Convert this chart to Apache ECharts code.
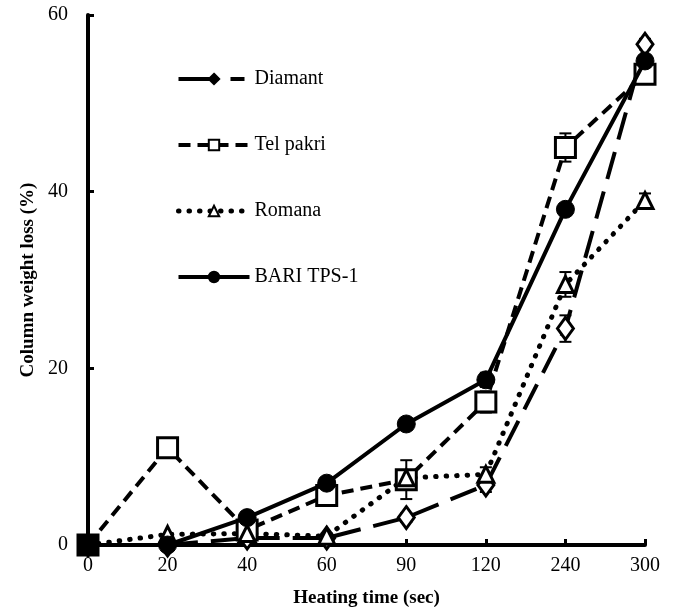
<!DOCTYPE html>
<html>
<head>
<meta charset="utf-8">
<script src="https://cdn.jsdelivr.net/npm/echarts@6/dist/echarts.min.js"></script>
<style>html,body{margin:0;padding:0;background:#fff}#c{width:677px;height:615px}</style>
</head>
<body>
<div id="c"></div>
<script>
var categories = ['0', '20', '40', '60', '90', '120', '240', '300'];
var diamant = [0, 0, 0.8, 0.8, 3.1, 6.8, 24.5, 56.7];
var telPakri = [0, 11, 1.7, 5.6, 7.4, 16.2, 45, 53.3];
var romana = [0, 1.2, 1.3, 1.0, 7.6, 8.0, 29.5, 39.0];
var bari = [0, 0, 3.1, 7.0, 13.7, 18.7, 38.0, 54.8];
var errDiamant = [0, 0, 0, 0, 0.5, 0.8, 1.5, 0.6];
var errTel = [0, 0.5, 0, 0.5, 2.2, 1.2, 1.6, 0.6];
var errRomana = [0, 0, 0, 0.3, 0.5, 0.8, 1.4, 0.8];
var errBari = [0, 0, 0, 0, 0, 0.8, 0, 0];
var seriesNames = ['Diamant', 'Tel pakri', 'Romana', 'BARI TPS-1'];

var FONT = '"Liberation Serif", "Times New Roman", serif';
var DASH_LONG = [28, 13];
var DASH_SHORT = [12, 7];
var DOTS = [0.5, 10];

function points(arr, filledIdx) {
  return arr.map(function (v, i) {
    if (filledIdx && filledIdx.indexOf(i) >= 0) {
      return { value: v, itemStyle: { color: '#000' } };
    }
    return v;
  });
}
function errData(vals, errs) {
  var out = [];
  for (var i = 0; i < vals.length; i++) {
    if (errs[i] > 0) out.push([i, vals[i], errs[i]]);
  }
  return out;
}
function errSeries(vals, errs) {
  return {
    type: 'custom',
    silent: true,
    z: 1,
    data: errData(vals, errs),
    renderItem: function (params, api) {
      var x = api.value(0), y = api.value(1), e = api.value(2);
      var hi = api.coord([x, y + e]);
      var lo = api.coord([x, y - e]);
      var hw = 6;
      var st = { stroke: '#000', lineWidth: 2 };
      return {
        type: 'group',
        children: [
          { type: 'line', shape: { x1: hi[0], y1: hi[1], x2: lo[0], y2: lo[1] }, style: st },
          { type: 'line', shape: { x1: hi[0] - hw, y1: hi[1], x2: hi[0] + hw, y2: hi[1] }, style: st },
          { type: 'line', shape: { x1: lo[0] - hw, y1: lo[1], x2: lo[0] + hw, y2: lo[1] }, style: st }
        ]
      };
    }
  };
}

var chart = echarts.init(document.getElementById('c'));
chart.setOption({
  animation: false,
  backgroundColor: '#fff',
  grid: { left: 88, right: 32, top: 15, bottom: 70 },
  legend: {
    orient: 'vertical',
    left: 171,
    top: 64,
    itemWidth: 71,
    itemHeight: 13,
    itemGap: 46,
    textStyle: { fontFamily: FONT, fontSize: 20, color: '#000', lineHeight: 20 },
    data: [
      { name: 'Diamant', itemStyle: { color: '#000', borderColor: '#000' }, lineStyle: { width: 4, type: [40, 12, 14, 12], color: '#000' } },
      { name: 'Tel pakri', lineStyle: { width: 4, type: DASH_SHORT, color: '#000' } },
      { name: 'Romana', lineStyle: { width: 5, type: DOTS, cap: 'round', color: '#000' } },
      { name: 'BARI TPS-1', lineStyle: { width: 4, type: 'solid', color: '#000' } }
    ]
  },
  xAxis: {
    type: 'category',
    data: categories,
    boundaryGap: false,
    name: 'Heating time (sec)',
    nameLocation: 'middle',
    nameGap: 44,
    nameTextStyle: { fontFamily: FONT, fontSize: 19, fontWeight: 'bold', color: '#000' },
    axisLine: { lineStyle: { color: '#000', width: 4 } },
    axisTick: { inside: true, length: 6, alignWithLabel: true, lineStyle: { color: '#000', width: 3 } },
    axisLabel: { fontFamily: FONT, fontSize: 20, color: '#000', margin: 11 },
    splitLine: { show: false }
  },
  yAxis: {
    type: 'value',
    min: 0,
    max: 60,
    interval: 20,
    name: 'Column weight loss (%)',
    nameLocation: 'middle',
    nameGap: 48,
    nameTextStyle: { fontFamily: FONT, fontSize: 19, fontWeight: 'bold', color: '#000' },
    axisLine: { show: true, lineStyle: { color: '#000', width: 4 } },
    axisTick: { show: true, inside: true, length: 6, lineStyle: { color: '#000', width: 3 } },
    axisLabel: { fontFamily: FONT, fontSize: 20, color: '#000', margin: 20 },
    splitLine: { show: false }
  },
  series: [
    errSeries(diamant, errDiamant),
    errSeries(telPakri, errTel),
    errSeries(romana, errRomana),
    errSeries(bari, errBari),
    {
      name: seriesNames[0], type: 'line', data: points(diamant, [1]), z: 3,
      symbol: 'diamond', symbolSize: [16, 22],
      lineStyle: { color: '#000', width: 4, type: DASH_LONG },
      itemStyle: { color: '#fff', borderColor: '#000', borderWidth: 3 }
    },
    {
      name: seriesNames[1], type: 'line', data: points(telPakri, [0]), z: 3,
      symbol: 'rect', symbolSize: 20,
      lineStyle: { color: '#000', width: 4, type: DASH_SHORT },
      itemStyle: { color: '#fff', borderColor: '#000', borderWidth: 3 }
    },
    {
      name: seriesNames[2], type: 'line', data: points(romana), z: 3,
      symbol: 'triangle', symbolSize: [16, 16],
      lineStyle: { color: '#000', width: 5, type: DOTS, cap: 'round' },
      itemStyle: { color: '#fff', borderColor: '#000', borderWidth: 3 }
    },
    {
      name: seriesNames[3], type: 'line', data: points(bari), z: 4,
      symbol: 'circle', symbolSize: 18,
      lineStyle: { color: '#000', width: 4, type: 'solid' },
      itemStyle: { color: '#000', borderColor: '#000', borderWidth: 1 }
    }
  ]
});
</script>
</body>
</html>
